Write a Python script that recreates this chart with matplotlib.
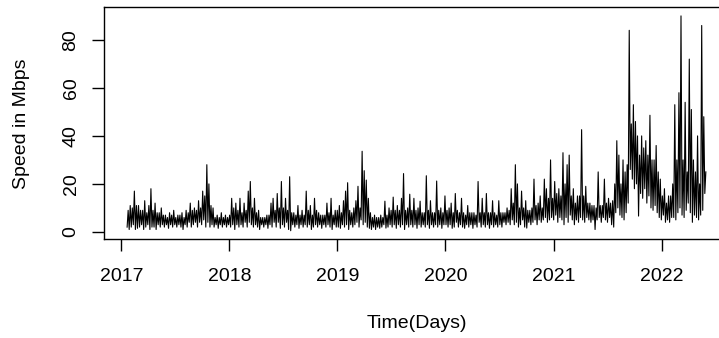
import numpy as np
import pandas as pd
import matplotlib
matplotlib.use("Agg")
import matplotlib.pyplot as plt
import matplotlib.dates as mdates

plt.rcParams['font.family'] = ['Liberation Sans', 'DejaVu Sans']

# velocidade (Mbps): maximo e minimo de cada semana, uma lista por ano
max_2017 = [9, 11, 10, 17, 11, 11, 9, 9, 13, 8,
            11, 18, 9, 12, 8, 8, 10, 7, 7, 6,
            8, 7, 9, 6, 7, 7, 8, 6, 9, 8,
            12, 9, 10, 9, 13, 10, 17, 15, 28, 20,
            11, 10, 6, 7, 6, 8, 6, 7, 6, 7]
min_2017 = [2, 1, 2, 3, 1, 1.5, 2, 3, 1, 2,
            3, 1, 2, 2, 1, 3, 2, 3, 2, 3,
            1.5, 3, 2, 3, 2, 3, 2, 1, 3, 2,
            4, 2, 3, 4, 2, 4, 3, 5, 2, 4,
            2, 3, 2, 3, 1.5, 3, 2, 3, 2, 3]
max_2018 = [14, 10, 12, 9, 14, 8, 12, 9, 17, 21,
            10, 14, 8, 9, 6, 6, 6, 7, 7, 12,
            14, 9, 16, 10, 21, 10, 14, 9, 23, 8,
            8, 7, 11, 7, 9, 7, 17, 9, 11, 7,
            14, 9, 8, 7, 7, 7, 12, 8, 14, 7,
            9, 9]
min_2018 = [2, 3, 1, 3, 2, 3, 2, 4, 2, 4,
            3, 2, 3, 2, 1, 3, 2, 3, 1.5, 3,
            2, 4, 2, 4, 1.5, 3, 2, 4, 1, 0.5,
            3, 2, 3, 1.5, 3, 2, 3, 2, 3, 1,
            2, 3, 2, 3, 1.5, 3, 2, 3, 2, 1,
            3, 2]
max_2019 = [11, 8, 13, 17, 20.5, 9, 8, 10, 13, 19,
            10, 33.6, 25.5, 21.6, 14, 8, 6, 7, 6, 6,
            7, 6, 12.8, 7, 10, 9, 14.5, 9, 11, 9,
            14, 24.3, 9, 10, 15.7, 9, 14, 9, 10, 12.8,
            8, 8, 23.4, 9, 13, 8, 8, 21.2, 9, 10,
            8, 15]
min_2019 = [2, 1.5, 3, 2, 3, 1, 3, 2, 3, 4,
            2, 5, 3, 4, 2, 1.5, 1, 2, 1, 2,
            1.5, 2, 3, 1.6, 2, 3, 2, 3, 1.5, 3,
            2, 3, 1, 3, 2, 3, 2, 3, 1.5, 3,
            2, 3, 2, 3, 1.5, 3, 2, 3, 2, 3,
            1.5, 3]
max_2020 = [9, 10, 12, 8, 16, 9, 8, 14, 8, 7,
            11, 8, 8, 8, 7, 21, 8, 14, 8, 16,
            8, 8, 13, 8, 7, 13, 8, 8, 8, 10,
            9, 18, 12, 28, 20, 10, 17, 10, 13, 9,
            9, 10, 22, 11, 12, 15, 10, 22, 18, 14,
            30, 14]
min_2020 = [3, 2, 3, 1.5, 2, 4, 2, 3, 2, 1.5,
            3, 2, 3, 1.5, 3, 2, 4, 2, 3, 2,
            3, 1.5, 3, 2, 3, 2, 3, 2, 4, 3,
            4, 3, 5, 3, 4, 2, 3, 5, 2, 1.6,
            4, 3, 4, 5, 3, 5, 4, 5, 6, 4,
            5, 6]
max_2021 = [21, 16, 18, 15, 33, 20, 28, 32, 15, 18,
            12, 15, 15, 42.6, 15, 19, 12, 12, 11, 11,
            10, 25, 11, 11, 22, 12, 14, 12, 13, 20,
            38, 32, 20, 30, 25, 28, 84, 45, 53, 46,
            40, 32, 40, 35, 38, 32, 48.6, 30, 30, 36,
            25, 22]
min_2021 = [5, 7, 4, 6, 5, 3, 6, 4, 7, 5,
            3, 5, 4, 6, 5, 4, 6, 5, 4, 5,
            1, 5, 6, 4, 6, 5, 4, 6, 3, 2,
            8, 10, 7, 6, 5, 8, 12, 26, 22, 18,
            20, 6.6, 16, 14, 18, 12, 15, 10, 9, 11,
            8, 6]
max_2022 = [15, 18, 12, 15, 15, 20, 53, 30, 58, 90,
            30, 54, 25, 72, 51, 30, 25, 40, 20, 86,
            48, 25]
min_2022 = [5, 7, 4, 5, 4, 6, 6, 5, 8, 10,
            7, 6, 9, 12, 8, 4, 7, 6, 5, 7,
            9, 16]

anos = [2017, 2018, 2019, 2020, 2021, 2022]
y_ticks = [0, 20, 40, 60, 80]

vmax = np.array(max_2017 + max_2018 + max_2019 + max_2020 + max_2021 + max_2022)
vmin = np.array(min_2017 + min_2018 + min_2019 + min_2020 + min_2021 + min_2022)
semanas = pd.date_range('2017-01-20', periods=len(vmax), freq='7D')

# cada semana: minimo no inicio, maximo no meio
datas = np.empty(2 * len(vmax), dtype='datetime64[ns]')
datas[0::2] = semanas.values
datas[1::2] = (semanas + pd.Timedelta(hours=84)).values
vel = np.empty(2 * len(vmax))
vel[0::2] = vmin
vel[1::2] = vmax

fig = plt.figure(figsize=(7.19, 3.38), dpi=100)
# o grafico original foi cortado na direita
ax = fig.add_axes([0.1446, 0.292, 0.8693, 0.6864])

ax.plot(datas, vel, color='black', lw=0.8)

# limites no estilo do R (4% de folga)
xn = mdates.date2num(datas)
dx = 0.04 * (xn.max() - xn.min())
ax.set_xlim(xn.min() - dx, xn.max() + dx)
dy = 0.04 * (vel.max() - vel.min())
ax.set_ylim(vel.min() - dy, vel.max() + dy)

ax.set_xticks([mdates.date2num(pd.Timestamp(str(a) + '-01-01')) for a in anos])
ax.set_xticklabels([str(a) for a in anos])
ax.set_yticks(y_ticks)
ax.set_yticklabels([str(v) for v in y_ticks])

ax.tick_params(axis='both', direction='out', length=8.6, width=1,
               labelsize=14, colors='black')
ax.tick_params(axis='x', pad=12)
ax.tick_params(axis='y', pad=9)
plt.setp(ax.get_yticklabels(), rotation=90, va='center')

for s in ax.spines.values():
    s.set_linewidth(1)
    s.set_color('black')

ax.set_xlabel('Time(Days)', fontsize=14)
ax.set_ylabel('Speed in Mbps', fontsize=14)
ax.xaxis.label.set_va('center')
ax.xaxis.set_label_coords(0.5, -0.365)
ax.yaxis.label.set_va('center')
ax.yaxis.set_label_coords(-0.1317, 0.5)

fig.savefig('out.png', dpi=100)
